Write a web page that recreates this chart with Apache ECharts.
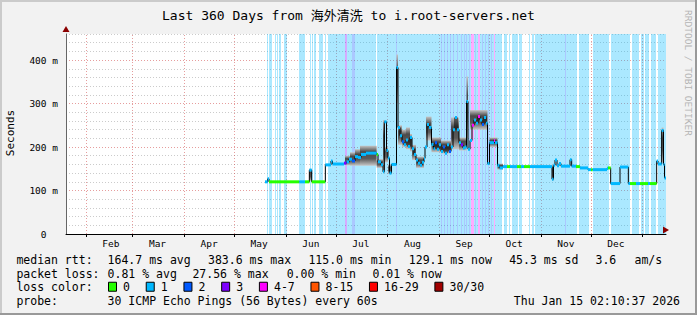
<!DOCTYPE html>
<html><head><meta charset="utf-8">
<script src="https://cdn.jsdelivr.net/npm/echarts@6/dist/echarts.min.js"></script>
<style>html,body{margin:0;padding:0;background:#f2f2f2}#main{width:697px;height:315px}</style>
</head><body><div id="main"></div><script>
// ---------------- data (days since start of the 360-day window) ----------------
const monthNames = ['Feb','Mar','Apr','May','Jun','Jul','Aug','Sep','Oct','Nov','Dec'];
const monthLabelDays = [26.9,54.9,85.9,115.9,146.9,176.9,207.9,238.9,268.9,299.9,329.9];
const monthStartDays = [11.9,39.9,70.9,100.9,131.9,161.9,192.9,223.9,253.9,284.9,314.9,345.9];
const yTickValues = [0,100,200,300,400];
const lossNames = ['0','1','2','3','4-7','8-15','16-29','30/30'];
const lossColors = ['#26ff00','#00b8ff','#0059ff','#7e00ff','#ff00ff','#ff5500','#ff0000','#a10000'];

// median rtt (ms) steps: start day, value, loss level
const medianDays = [119.4,121.0,121.8,140.0,143.4,146.0,147.4,155.6,159.0,159.9,166.8,168.3,169.8,171.6,173.4,175.2,177.0,180.0,186.4,187.2,189.0,190.2,191.0,192.3,193.2,194.1,195.3,198.3,199.2,200.4,201.6,202.8,204.0,205.2,206.4,207.6,208.8,210.0,211.2,212.4,213.6,214.8,215.4,216.6,217.8,219.3,220.5,221.4,222.6,223.8,225.0,226.2,227.4,228.6,229.8,231.0,232.2,233.4,234.6,235.8,237.0,238.2,239.4,240.3,241.2,242.4,243.6,244.8,246.0,247.2,248.4,249.6,250.8,252.0,252.9,254.1,256.8,257.4,258.9,260.1,262.2,264.6,266.4,270.6,273.0,274.8,278.4,291.6,292.5,293.4,294.6,295.8,297.0,302.4,303.4,306.0,308.4,313.2,315.0,316.0,324.6,325.2,326.8,332.4,337.4,338.4,342.0,344.4,349.2,350.4,354.4,355.2,357.4,358.5,359.1];
const medianValues = [120,127,120,120,120,147,120,159,168,161,163,166,172,168,178,176,183,186,183,166,159,143,258,192,175,140,160,383,245,226,212,205,216,201,222,196,183,170,163,158,165,174,200,252,245,206,196,210,195,205,190,200,186,205,190,200,240,268,240,210,205,198,200,305,195,215,250,262,255,270,262,252,268,255,162,210,215,210,158,152,155,155,155,155,155,155,155,126,158,170,157,162,156,171,156,155,152,148,148,148,151,152,116,154,116,116,116,116,116,116,168,161,238,160,129];
const medianLoss = [1,1,0,1,0,1,0,1,1,1,3,1,1,2,1,1,1,1,0,1,1,1,1,1,1,1,1,1,1,1,2,1,1,1,1,1,1,1,1,1,1,1,1,1,1,1,1,2,1,1,1,2,1,1,2,1,1,1,1,1,3,1,1,1,1,1,4,1,1,4,1,2,1,1,1,1,4,1,1,1,1,0,1,0,1,0,1,1,1,1,1,1,1,1,1,0,1,1,0,1,1,0,1,1,1,0,1,0,1,0,1,1,1,1,1];

// loss background bands: start day, end day, loss level
const lossBands = [[120.8,121.4,1],[121.8,123.6,1],[125.4,126,1],[126.6,127.2,1],[127.8,129,1],[130.8,132.4,1],[139.8,143.4,1],[146.4,147,1],[147.6,148.4,1],[149,150,1],[151.8,154.2,1],[155.4,156,1],[157,167.4,1],[167.4,168.8,3],[168.8,171.4,1],[171.4,173.4,2],[173.4,186,1],[186.6,198,1],[198,198.6,2],[198.6,224.4,1],
[224.4,225,1],[225,225.8,2],[225.8,226.8,1],[226.8,227.6,2],[227.6,228.6,1],[228.6,229.4,2],[229.4,230.4,1],[230.4,231.2,2],[231.2,232.2,1],[232.2,233,2],[233,234.6,1],[234.6,235.4,2],[235.4,237,1],[237,237.8,2],[237.8,238.8,1],[238.8,239.6,2],[239.6,240,1],[240,240.8,2],[240.8,241.8,1],[241.8,242.6,2],[242.6,243.2,1],[243.2,244.6,4],[244.6,245.4,1],[245.4,246.2,2],[246.2,247.2,1],[247.2,248.6,4],[248.6,249.6,1],[249.6,250.4,2],[250.4,251.4,1],[251.4,252.2,2],[252.2,253.2,1],[253.2,254,2],[254,255,1],[255,255.8,2],[255.8,256.6,1],[256.6,257.4,4],
[257.4,261.6,1],[262.6,264.6,1],[265.6,266.6,1],[267.6,271.2,1],[272,273.6,1],[277.6,278.6,1],[279.6,280.6,1],[281.4,299.6,1],[299.6,300.2,2],[300.2,306.6,1],[308,313.6,1],[316,325.6,1],[327,338.6,1],[339.6,343.6,1],[345.2,346.6,1],[347.6,349.6,1],[351.2,354.2,1],[355,360,1]];

// smoke (ping spread): start day, end day, low ms, high ms
const smokeBands = [[146,147.4,122,150],[167.4,170.4,158,180],[170.4,173.4,157,188],[173.4,176.4,157,195],[176.4,186.4,157,203],[186.4,190.2,152,172],[190.2,191.4,140,262],[191.4,193.2,165,200],[193.2,195.3,138,160],[198.3,199.2,300,413],[199.2,201.6,205,250],[201.6,204,200,240],[204,206.4,195,245],[206.4,207.6,190,230],[207.6,210,170,205],[210,214.8,152,178],[216,219.3,215,270],[219.3,225,188,222],[225,231,185,215],[231,235.8,195,268],[235.8,240.3,192,222],[240.3,241.2,220,362],[242.4,252.9,240,285],[254.1,258.9,200,222],[258.9,262.2,148,162],[291.6,292.5,122,160],[357.4,358.5,165,245]];

const rttLabel = 'median rtt:';
const rttStats = ['164.7 ms avg','383.6 ms max','115.0 ms min','129.1 ms now','45.3 ms sd','3.6','am/s'];
const lossLabel = 'packet loss:';
const lossStats = ['0.81 % avg','27.56 % max','0.00 % min','0.01 % now'];
const colorLabel = 'loss color:';
const probeLabel = 'probe:';
const probeText = '30 ICMP Echo Pings (56 Bytes) every 60s';
const stampText = 'Thu Jan 15 02:10:37 2026';
const titleText = 'Last 360 Days from 海外清洗 to i.root-servers.net';
const yName = 'Seconds';
const watermark = 'RRDTOOL / TOBI OETIKER';

// ---------------- chart ----------------
const FONT = "'DejaVu Sans Mono','Noto Sans CJK SC',monospace";
const X_MAX = 360, Y_MAX = 460;
function rgba(hex, a){const n=parseInt(hex.slice(1),16);return `rgba(${n>>16},${(n>>8)&255},${n&255},${a})`;}

const medianSteps = medianDays.map((d,i)=>[d, i+1<medianDays.length?medianDays[i+1]:X_MAX, medianValues[i], medianLoss[i]]);
const medianLine = medianDays.map((d,i)=>[d, medianValues[i]]).concat([[X_MAX, medianValues[medianValues.length-1]]]);

const gridLines = [];
for (let v=20; v<=Y_MAX; v+=20) {
  const major = v%100===0;
  gridLines.push({yAxis:v, lineStyle:{color: major?'rgba(205,60,60,0.5)':'rgba(140,140,140,0.45)', type:[1,2], width:1}});
}
monthStartDays.forEach(d=>gridLines.push({xAxis:d, lineStyle:{color:'rgba(205,60,60,0.5)', type:[1,2], width:1}}));

const chart = echarts.init(document.getElementById('main'), null, {renderer:'svg', width:697, height:315});

function txt(text, x, y, extra){
  return Object.assign({type:'text', x, y, silent:true, style:Object.assign({text, fontFamily:FONT, fontSize:11.5, fill:'#000', align:'left', verticalAlign:'middle'}, extra||{})});
}
const rttX = [107.6,208,308.4,408.8,509.2,595.5,634.5];
const lossX = [107.6,192.4,286.7,372.4];
const graphics = [
  {type:'rect', shape:{x:0,y:0,width:697,height:2}, style:{fill:'#cbcbcb'}, silent:true},
  {type:'rect', shape:{x:0,y:0,width:2,height:315}, style:{fill:'#cbcbcb'}, silent:true},
  {type:'rect', shape:{x:695,y:0,width:2,height:315}, style:{fill:'#999999'}, silent:true},
  {type:'rect', shape:{x:0,y:313,width:697,height:2}, style:{fill:'#999999'}, silent:true},
  txt(titleText, 348.5, 15.5, {fontSize:13, align:'center'}),
  Object.assign(txt(yName, 10, 133, {fontSize:11, align:'center'}), {rotation:Math.PI/2}),
  Object.assign(txt(watermark, 688, 73, {fontSize:9.5, align:'center', fill:'#b4b4b4'}), {rotation:-Math.PI/2}),
  txt(rttLabel, 16.4, 259.7),
  txt(lossLabel, 16.4, 273.7),
  txt(colorLabel, 16.4, 287.3),
  txt(probeLabel, 16.4, 301.3),
  txt(probeText, 107.6, 301.3),
  txt(stampText, 680, 301.3, {align:'right'})
];
rttStats.forEach((s,i)=>graphics.push(txt(s, rttX[i], 259.7)));
lossStats.forEach((s,i)=>graphics.push(txt(s, lossX[i], 273.7)));

const lossSeries = lossNames.map((name, lvl)=>({
  name, type:'custom', z:6, coordinateSystem:'cartesian2d',
  itemStyle:{color:lossColors[lvl]},
  encode:{x:[0,1], y:2},
  data: medianSteps.filter(s=>s[3]===lvl),
  renderItem(params, api){
    const p0 = api.coord([api.value(0), api.value(2)]);
    const p1 = api.coord([api.value(1), api.value(2)]);
    return {type:'rect', shape:{x:p0[0], y:p0[1]-1.5, width:Math.max(p1[0]-p0[0],1), height:3}, style:{fill:lossColors[lvl]}};
  }
}));

const option = {
  backgroundColor:'#f2f2f2',
  animation:false,
  textStyle:{fontFamily:FONT},
  grid:{left:66, top:34, width:600, height:200, show:true, backgroundColor:'#ffffff', borderWidth:0, containLabel:false},
  xAxis:{type:'value', min:0, max:X_MAX, z:10,
    axisLine:{show:true, onZero:false, lineStyle:{color:'#000', width:1}},
    axisTick:{show:true, customValues:monthStartDays, length:3, lineStyle:{color:'#000'}},
    axisLabel:{customValues:monthLabelDays, margin:5, fontFamily:FONT, fontSize:9.5, color:'#000',
      formatter:(v)=>{let bi=0,bd=1e9;monthLabelDays.forEach((d,i)=>{if(Math.abs(d-v)<bd){bd=Math.abs(d-v);bi=i;}});return monthNames[bi];}},
    splitLine:{show:false}},
  yAxis:{type:'value', min:0, max:Y_MAX, z:10,
    axisLine:{show:true, lineStyle:{color:'#666', width:1}},
    axisTick:{show:false},
    axisLabel:{customValues:yTickValues, margin:8, fontFamily:FONT, fontSize:9.5, color:'#000',
      formatter:(v)=> v===0 ? '0  ' : v + ' m'},
    splitLine:{show:false}},
  legend:{show:true, left:108, top:281, padding:0, itemWidth:8, itemHeight:9, itemGap:15.7, icon:'rect',
    selectedMode:false, data:lossNames,
    itemStyle:{borderColor:'#000', borderWidth:1},
    textStyle:{fontFamily:FONT, fontSize:11.5, color:'#000', padding:[0,0,0,1.6]}},
  graphic: graphics,
  series:[
    {type:'line', name:'grid', z:1, data:[], silent:true,
      markLine:{silent:true, z:1, symbol:['none','none'], animation:false, label:{show:false}, data:gridLines}},
    {type:'custom', name:'lossbg', z:3, silent:true, encode:{x:[0,1]},
      data: lossBands,
      renderItem(params, api){
        const p0 = api.coord([api.value(0), Y_MAX]);
        const p1 = api.coord([api.value(1), 0]);
        const x0 = Math.round(p0[0]), x1 = Math.round(p1[0]);
        return {type:'rect', shape:{x:x0, y:p0[1], width:Math.max(x1-x0,1), height:p1[1]-p0[1]}, style:{fill:rgba(lossColors[api.value(2)],0.33)}};
      }},
    {type:'custom', name:'smoke', z:4, silent:true, encode:{x:[0,1], y:[2,3]},
      data: smokeBands,
      renderItem(params, api){
        const p0 = api.coord([api.value(0), api.value(3)]);
        const p1 = api.coord([api.value(1), api.value(2)]);
        return {type:'rect', shape:{x:p0[0], y:p0[1], width:p1[0]-p0[0], height:p1[1]-p0[1]},
          style:{fill:new echarts.graphic.LinearGradient(0,0,0,1,[{offset:0,color:'#c4c4c4'},{offset:0.3,color:'#4a4a4a'},{offset:0.65,color:'#5a5a5a'},{offset:1,color:'#c8c8c8'}])}};
      }},
    {type:'line', name:'median', z:5, data:medianLine, step:'end', symbol:'none', silent:true,
      lineStyle:{color:'#000', width:1},
      markPoint:{silent:true, animation:false, label:{show:false},
        data:[
          {coord:[X_MAX,0], symbol:'triangle', symbolSize:[7,6], symbolRotate:-90, symbolOffset:[0,-4], itemStyle:{color:'#8b0000'}},
          {coord:[0,Y_MAX], symbol:'triangle', symbolSize:[7,6], symbolOffset:[0,-5], itemStyle:{color:'#8b0000'}}
        ]}}
  ].concat(lossSeries)
};
chart.setOption(option);
</script></body></html>
